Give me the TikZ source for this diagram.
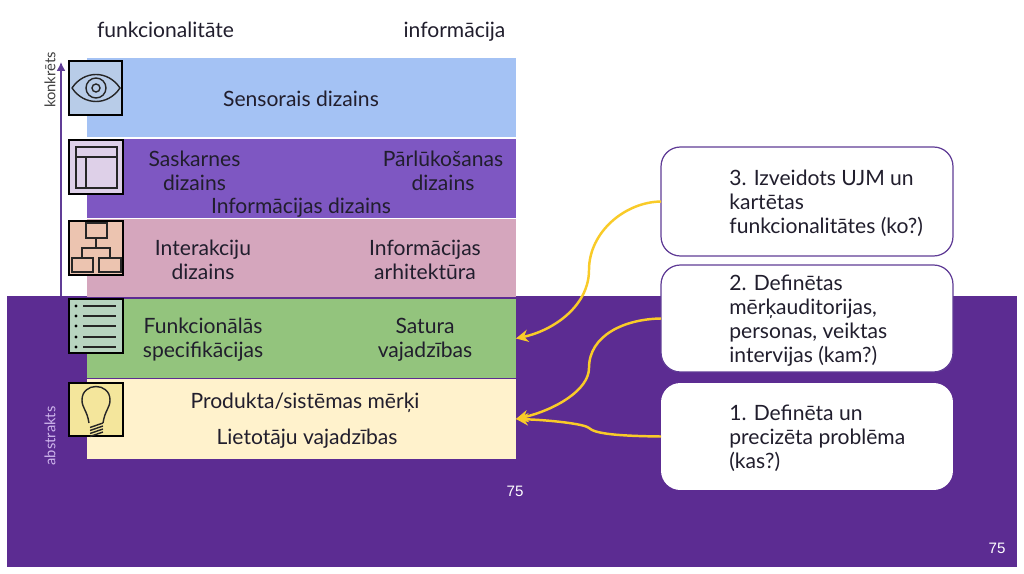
\documentclass[tikz,border=0pt]{standalone}
\usepackage{fontspec}
\setmainfont{Lato}
\newfontfamily\numfont{Liberation Sans}
\usepackage{xcolor}
\usetikzlibrary{arrows.meta}
\definecolor{deeppurple}{RGB}{92,44,146}
\definecolor{linepurple}{RGB}{96,60,150}
\definecolor{arrowyellow}{RGB}{249,203,40}
\definecolor{sensblue}{RGB}{164,194,244}
\definecolor{skelpurple}{RGB}{126,87,194}
\definecolor{structpink}{RGB}{213,166,189}
\definecolor{scopegreen}{RGB}{147,196,125}
\definecolor{planyellow}{RGB}{255,242,204}
\definecolor{textdark}{RGB}{33,30,45}
\definecolor{lilactext}{RGB}{205,180,235}
\definecolor{iconblue}{RGB}{184,204,232}
\definecolor{iconlilac}{RGB}{222,208,232}
\definecolor{iconpeach}{RGB}{236,196,176}
\definecolor{icongreen}{RGB}{184,212,192}
\definecolor{iconyellow}{RGB}{244,230,156}
\tikzset{
layerband/.style={minimum width=8.58cm, inner sep=0pt, outer sep=0pt, anchor=north west},
layertext/.style={font=\fontsize{12}{13.6}\selectfont, text=textdark, align=center},
iconbox/.style={draw=black, line width=1.3pt, minimum size=1.07cm, inner sep=0pt},
iconline/.style={draw=black!85, line width=0.8pt},
notebox/.style={fill=white, rounded corners=11pt, minimum width=5.84cm, inner sep=0pt, outer sep=0pt},
notetext/.style={font=\fontsize{12}{13.6}\selectfont, text=textdark, align=left, anchor=west, inner sep=0pt},
curvearrow/.style={draw=arrowyellow, line width=1.4pt, -{Stealth[length=7pt,width=7pt]}},
sidetext/.style={font=\fontsize{8.4}{10}\selectfont, rotate=90},
pagenum/.style={font=\numfont\fontsize{8.6}{10}\selectfont, text=white}
}
\begin{document}
\begin{tikzpicture}[x=0.02cm,y=-0.02cm]
\useasboundingbox (0,0) rectangle (1024,574);

% Background
\fill[white] (0,0) rectangle (1024,574);
\fill[deeppurple] (7,296) rectangle (1017,567);

% Axis
\draw[linepurple, line width=0.9pt, -{Latex[length=5pt,width=5pt]}] (61,296) -- (61,62);
\node[sidetext, text=black!75] (konkrets) at (50,80) {konkrēts};
\node[sidetext, text=lilactext] (abstrakts) at (50,436) {abstrakts};

% Titles
\node[layertext, anchor=base] (funkc) at (165.5,38) {funkcionalitāte};
\node[layertext, anchor=base] (inform) at (454.5,38) {informācija};

% Layers
\node[layerband, fill=sensblue, minimum height=1.58cm] (sens) at (87,58) {};
\node[layerband, fill=skelpurple, minimum height=1.58cm] (skel) at (87,139) {};
\node[layerband, fill=structpink, minimum height=1.56cm] (struct) at (87,219) {};
\node[layerband, fill=scopegreen, minimum height=1.58cm] (scopeband) at (87,299) {};
\node[layerband, fill=planyellow, minimum height=1.60cm] (plan) at (87,379) {};

% Layer labels
\node[layertext] (senstxt) at (301,99) {Sensorais dizains};
\node[layertext] (saskarne) at (194.5,171) {Saskarnes\\dizains};
\node[layertext] (parluk) at (443,171) {Pārlūkošanas\\dizains};
\node[layertext] (infodiz) at (301,208) {Informācijas dizains};
\node[layertext] (interak) at (203,260) {Interakciju\\dizains};
\node[layertext] (arhit) at (425,260) {Informācijas\\arhitektūra};
\node[layertext] (funkspec) at (203,340) {Funkcionālās\\specifikācijas};
\node[layertext] (satura) at (425,340) {Satura\\vajadzības};
\node[layertext] (merki) at (305,403) {Produkta/sistēmas mērķi};
\node[layertext] (lietot) at (307,439) {Lietotāju vajadzības};

% Icons
\node[iconbox, fill=iconblue] (eyeicon) at (95.5,88) {};
\draw[iconline] (72,88) .. controls (84,70) and (108,70) .. (120,88) .. controls (108,106) and (84,106) .. (72,88);
\draw[iconline] (96,88) circle (10);
\draw[iconline] (96,88) circle (4);

\node[iconbox, fill=iconlilac] (pageicon) at (96,167) {};
\draw[iconline] (76,147) rectangle (117,188);
\draw[iconline] (76,157) -- (117,157);
\draw[iconline] (86,157) -- (86,188);

\node[iconbox, fill=iconpeach] (treeicon) at (96,248) {};
\draw[iconline] (86,223) rectangle (107,238);
\draw[iconline] (72,258) rectangle (93,272);
\draw[iconline] (99,258) rectangle (121,272);
\draw[iconline] (96,238) -- (96,248);
\draw[iconline] (82,258) -- (82,248) -- (110,248) -- (110,258);

\node[iconbox, fill=icongreen] (listicon) at (96,326) {};
\foreach \y in {306,316,326,337,347}{
\fill[black] (76,\y) circle (1.6);
\draw[iconline] (83,\y) -- (116,\y);
}

\node[iconbox, fill=iconyellow] (bulbicon) at (96,409.5) {};
\draw[iconline] (89,423) .. controls (87,410) and (82,408) .. (82,400) .. controls (82,382) and (110,382) .. (110,400) .. controls (110,408) and (105,410) .. (103,423);
\foreach \y in {426,429,432,435}{
\draw[iconline] (90,\y+1.5) -- (103,\y-3);
}

% Note boxes
\node[notebox, minimum height=2.18cm, draw=linepurple, line width=0.7pt] (notethree) at (807,201.5) {};
\node[notebox, minimum height=2.14cm, draw=linepurple, line width=0.7pt] (notetwo) at (807,318.5) {};
\node[notebox, minimum height=2.14cm] (noteone) at (807,436.5) {};
\node[notetext] (txtthree) at (729,203) {3. Izveidots UJM un\\kartētas\\funkcionalitātes (ko?)};
\node[notetext] (txttwo) at (729,321) {2. Definētas\\mērķauditorijas,\\personas, veiktas\\intervijas (kam?)};
\node[notetext] (txtone) at (729,438) {1. Definēta un\\precizēta problēma\\(kas?)};

% Arrows
\coordinate (bendthree) at (589,270);
\coordinate (bendtwo) at (589,368);
\coordinate (bendone) at (589,428);
\draw[curvearrow] (notethree.west) .. controls (625,202) and (589,232) .. (bendthree) .. controls (589,305) and (555,330) .. (scopeband.east);
\draw[curvearrow] (notetwo.west) .. controls (625,319) and (589,335) .. (bendtwo) .. controls (589,390) and (555,410) .. (plan.east);
\draw[curvearrow] (noteone.west) .. controls (620,436) and (595,434) .. (bendone) .. controls (585,424) and (550,420) .. (plan.east);

% Page numbers
\node[pagenum] (pageinner) at (515,491) {75};
\node[pagenum] (pageouter) at (997,548) {75};

\end{tikzpicture}
\end{document}
